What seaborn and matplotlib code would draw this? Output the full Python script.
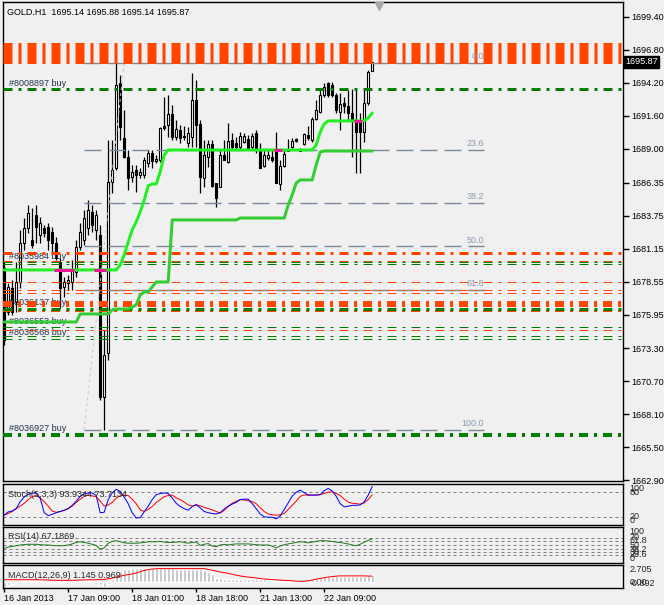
import numpy as np
import matplotlib
matplotlib.use("Agg")
import matplotlib.pyplot as plt
import matplotlib.transforms as mtransforms
import seaborn as sns

# ------------------------------------------------------------------ data
title_text = "GOLD.H1  1695.14 1695.88 1695.14 1695.87"

opens = [1679.62, 1676.16, 1678.05, 1676.95, 1678.52, 1681.59, 1682.78, 1681.83, 1683.80, 1682.22,
         1682.78, 1682.85, 1682.46, 1681.59, 1680.10, 1678.13, 1678.44, 1678.52, 1679.31, 1681.28,
         1681.83, 1682.78, 1684.04, 1682.62, 1682.22, 1669.46, 1672.93, 1686.40, 1687.50, 1694.20,
         1689.87, 1688.37, 1686.79, 1687.35, 1686.95, 1686.95, 1687.90, 1688.69, 1688.05, 1688.13,
         1690.81, 1690.89, 1691.76, 1689.95, 1690.50, 1690.02, 1689.47, 1689.95, 1692.86, 1690.97,
         1686.72, 1688.37, 1689.39, 1686.32, 1686.01, 1688.53, 1687.98, 1689.71, 1689.47, 1689.16,
         1689.55, 1689.79, 1689.16, 1690.26, 1688.92, 1687.66, 1688.29, 1688.37, 1688.76, 1686.24,
         1687.66, 1688.84, 1689.16, 1689.79, 1688.84, 1689.39, 1690.10, 1689.71, 1691.36, 1691.92,
         1693.25, 1694.20, 1694.04, 1693.25, 1691.92, 1692.62, 1692.39, 1691.84, 1691.29, 1691.05,
         1690.34, 1692.62, 1695.14]
closes = [1673.95, 1678.13, 1676.16, 1678.52, 1681.59, 1682.78, 1683.96, 1681.44, 1682.85, 1683.17,
          1682.38, 1681.83, 1681.59, 1680.41, 1678.05, 1678.52, 1678.68, 1679.47, 1681.28, 1682.46,
          1683.56, 1684.19, 1683.01, 1683.80, 1669.46, 1672.77, 1686.40, 1687.35, 1694.04, 1690.73,
          1688.37, 1686.72, 1687.19, 1686.95, 1687.19, 1688.13, 1688.69, 1688.05, 1688.21, 1690.65,
          1690.65, 1691.76, 1689.95, 1690.58, 1689.87, 1689.95, 1690.26, 1692.86, 1690.89, 1686.79,
          1688.53, 1689.39, 1686.09, 1685.14, 1688.53, 1688.13, 1689.63, 1689.16, 1689.16, 1690.02,
          1690.02, 1688.92, 1690.02, 1688.92, 1687.50, 1688.53, 1688.53, 1688.13, 1686.32, 1687.66,
          1688.61, 1688.92, 1689.63, 1689.63, 1688.92, 1690.18, 1689.87, 1691.36, 1692.07, 1693.25,
          1693.89, 1693.25, 1693.25, 1692.07, 1692.55, 1692.39, 1691.84, 1691.29, 1690.34, 1690.34,
          1692.62, 1695.07, 1695.87]
highs = [1680.10, 1678.44, 1678.68, 1680.10, 1682.62, 1683.56, 1684.59, 1684.35, 1684.59, 1683.64,
         1683.01, 1683.17, 1682.85, 1682.07, 1680.41, 1678.92, 1679.07, 1680.25, 1681.83, 1683.17,
         1684.19, 1684.98, 1684.59, 1684.19, 1683.01, 1674.74, 1689.71, 1689.71, 1695.78, 1694.83,
         1692.07, 1688.92, 1687.74, 1687.74, 1687.50, 1688.37, 1688.92, 1688.92, 1688.53, 1690.73,
         1693.10, 1693.25, 1692.47, 1691.29, 1690.89, 1690.81, 1690.73, 1694.99, 1694.44, 1691.29,
         1689.71, 1689.71, 1689.71, 1686.32, 1688.92, 1689.71, 1691.05, 1690.26, 1689.95, 1690.34,
         1690.26, 1690.10, 1690.26, 1690.50, 1689.47, 1688.92, 1688.92, 1688.92, 1690.34, 1688.13,
         1688.92, 1689.79, 1689.87, 1689.87, 1689.08, 1690.26, 1690.81, 1691.52, 1692.86, 1693.65,
         1694.20, 1694.28, 1694.28, 1693.41, 1693.41, 1693.10, 1693.65, 1693.73, 1693.73, 1691.84,
         1693.65, 1695.22, 1695.88]
lows = [1673.56, 1675.92, 1675.92, 1676.16, 1678.05, 1681.04, 1682.38, 1681.20, 1681.59, 1681.59,
        1682.07, 1681.04, 1680.65, 1680.25, 1676.47, 1677.34, 1677.89, 1677.89, 1678.92, 1681.04,
        1681.44, 1682.22, 1682.46, 1681.83, 1669.22, 1666.86, 1672.38, 1685.53, 1687.35, 1689.71,
        1688.29, 1685.77, 1686.40, 1685.61, 1686.72, 1686.72, 1687.58, 1687.50, 1687.90, 1687.98,
        1690.50, 1689.95, 1689.71, 1689.71, 1689.47, 1689.71, 1689.16, 1689.16, 1689.16, 1685.53,
        1686.01, 1687.58, 1686.01, 1684.43, 1686.01, 1688.13, 1687.90, 1688.92, 1688.92, 1688.92,
        1689.47, 1688.92, 1688.92, 1688.69, 1687.50, 1687.58, 1688.13, 1687.98, 1686.32, 1685.77,
        1687.58, 1688.84, 1689.08, 1689.55, 1688.84, 1689.32, 1689.71, 1689.55, 1691.29, 1691.84,
        1693.10, 1693.10, 1693.10, 1691.84, 1690.50, 1691.84, 1691.29, 1688.37, 1687.11, 1687.11,
        1689.55, 1692.47, 1695.14]

trail_fast = [1679.47, 1679.47, 1679.47, 1679.47, 1679.47, 1679.47, 1679.47, 1679.47, 1679.47, 1679.47,
              1679.47, 1679.47, 1679.47, 1679.47, 1679.47, 1679.47, 1679.47, 1679.47, 1679.47, 1679.47,
              1679.47, 1679.47, 1679.47, 1679.47, 1679.47, 1679.47, 1679.47, 1679.47, 1679.47, 1679.86,
              1680.65, 1681.67, 1682.62, 1683.25, 1684.04, 1684.98, 1686.09, 1686.24, 1686.24, 1687.19,
              1688.53, 1688.92, 1688.92, 1688.92, 1688.92, 1688.92, 1688.92, 1688.92, 1688.92, 1688.92,
              1688.92, 1688.92, 1688.92, 1688.92, 1688.92, 1688.92, 1688.92, 1688.92, 1688.92, 1688.92,
              1688.92, 1688.92, 1688.92, 1688.92, 1688.92, 1688.92, 1688.92, 1688.92, 1688.92, 1688.92,
              1688.92, 1688.92, 1688.92, 1688.92, 1688.92, 1688.92, 1688.92, 1688.92, 1689.32, 1690.34,
              1690.97, 1691.21, 1691.21, 1691.21, 1691.21, 1691.21, 1691.21, 1691.21, 1691.21, 1691.21,
              1691.21, 1691.44, 1691.84]
trail_fast_alt_bars = [13, 14, 15, 16, 17, 23, 24, 25, 68, 69, 88, 89]
trail_slow = [1675.37, 1675.37, 1675.37, 1675.37, 1675.37, 1675.37, 1675.37, 1675.37, 1675.37, 1675.37,
              1675.37, 1675.37, 1675.37, 1675.37, 1675.37, 1675.37, 1675.37, 1675.37, 1675.37, 1676.00,
              1676.00, 1676.00, 1676.00, 1676.00, 1676.00, 1676.00, 1676.00, 1676.32, 1676.39, 1676.39,
              1676.39, 1676.39, 1676.55, 1676.71, 1677.50, 1677.73, 1677.73, 1678.13, 1678.52, 1678.52,
              1678.52, 1678.52, 1683.41, 1683.41, 1683.41, 1683.41, 1683.41, 1683.41, 1683.41, 1683.41,
              1683.41, 1683.41, 1683.41, 1683.41, 1683.41, 1683.41, 1683.41, 1683.41, 1683.41, 1683.56,
              1683.56, 1683.56, 1683.56, 1683.56, 1683.56, 1683.56, 1683.56, 1683.56, 1683.56, 1683.56,
              1683.56, 1684.59, 1685.38, 1686.32, 1686.56, 1686.56, 1686.56, 1686.56, 1687.74, 1688.76,
              1688.84, 1688.84, 1688.84, 1688.84, 1688.84, 1688.84, 1688.84, 1688.84, 1688.84, 1688.84,
              1688.84, 1688.84, 1688.84]

stoch_main = [24, 32, 34, 40, 57, 68, 75, 78, 78, 65, 30, 23, 26, 30, 33, 36, 40, 48, 58, 70,
              76, 78, 78, 72, 30, 31, 62, 78, 87, 82, 68, 52, 30, 17, 18, 32, 46, 62, 74, 77,
              78, 77, 66, 53, 45, 40, 36, 45, 50, 42, 33, 30, 28, 27, 30, 39, 46, 51, 55, 62,
              63, 63, 52, 40, 27, 20, 19, 19, 15, 22, 38, 54, 70, 80, 85, 79, 73, 73, 73, 74,
              84, 89, 83, 70, 52, 44, 46, 48, 48, 49, 56, 73, 93.9344]
stoch_signal = [24, 28, 33, 40, 46, 53, 62, 69, 72, 66, 57, 46, 34, 31, 33, 36, 40, 46, 55, 63,
                70, 73, 71, 69, 58, 46, 49, 55, 66, 71, 73, 72, 63, 52, 37, 33, 38, 45, 55, 62,
                69, 72, 73, 66, 62, 56, 49, 46, 49, 47, 43, 40, 37, 33, 29, 36, 45, 53, 58, 62,
                61, 59, 57, 52, 42, 33, 27, 25, 24, 25, 28, 38, 48, 58, 70, 73, 73, 73, 73, 74,
                77, 80, 81, 77, 72, 63, 56, 53, 52, 51, 54, 62, 73.7134]
stoch_levels = [80, 20]

rsi_values = [41, 44, 46, 48, 50, 51, 52, 52, 52, 51, 50, 50, 49, 48, 48, 48, 50, 53, 57, 59,
              57, 55, 52, 49, 38, 42, 55, 60, 62, 59, 56, 55, 55, 55, 56, 57, 59, 59, 59, 60,
              58, 57, 57, 58, 59, 57, 55, 57, 58, 49, 52, 54, 47, 45, 50, 52, 50, 52, 53, 53,
              53, 53, 52, 51, 50, 50, 50, 47, 42, 47, 51, 53, 55, 57, 59, 58, 56, 58, 60, 62,
              62, 61, 60, 58, 57, 55, 53, 50, 48, 52, 58, 63, 67.1869]
rsi_levels = [70, 61.8, 50, 38.2, 30, 23.6]
rsi_level_labels = ["70", "61.8", "50", "38.2", "30", "23.6"]

macd_hist = [-0.87, -0.50, -0.20, 0.00, 0.10, 0.15, 0.20, 0.20, 0.20, 0.15,
             0.05, -0.05, -0.10, -0.10, -0.10, -0.05, 0.00, 0.05, 0.10, 0.15,
             0.20, 0.20, 0.20, 0.10, -0.50, -0.70, -0.20, 0.50, 1.30, 1.80,
             2.10, 2.15, 2.19, 2.20, 2.22, 2.22, 2.21, 2.20, 2.20, 2.19,
             2.18, 2.17, 2.16, 2.14, 2.12, 2.10, 2.08, 2.10, 2.12, 2.05,
             1.90, 1.60, 1.25, 0.75, 0.60, 0.56, 0.56, 0.58, 0.58, 0.56,
             0.55, 0.55, 0.51, 0.51, 0.50, 0.45, 0.41, 0.25, 0.15, 0.14,
             0.12, 0.14, 0.15, 0.15, 0.15, 0.20, 0.40, 0.55, 0.66, 0.75,
             0.82, 0.95, 1.00, 1.02, 1.02, 1.00, 1.00, 0.98, 0.96, 0.98,
             1.02, 1.08, 1.145]
macd_signal = [0.41, 0.41, 0.41, 0.41, 0.41, 0.41, 0.41, 0.41, 0.41, 0.39,
               0.37, 0.35, 0.33, 0.31, 0.30, 0.30, 0.30, 0.31, 0.33, 0.35,
               0.37, 0.39, 0.40, 0.41, 0.41, 0.45, 0.55, 0.65, 0.80, 0.95,
               1.10, 1.20, 1.30, 1.45, 1.65, 1.85, 2.00, 2.08, 2.12, 2.14,
               2.14, 2.14, 2.14, 2.14, 2.14, 2.14, 2.14, 2.14, 2.14, 2.14,
               2.14, 2.00, 1.90, 1.75, 1.62, 1.50, 1.40, 1.25, 1.12, 1.00,
               0.90, 0.82, 0.76, 0.68, 0.60, 0.52, 0.46, 0.42, 0.38, 0.33,
               0.30, 0.28, 0.22, 0.18, 0.15, 0.18, 0.25, 0.35, 0.50, 0.60,
               0.72, 0.82, 0.90, 0.96, 1.00, 1.00, 1.00, 1.00, 1.00, 1.00,
               1.00, 0.98, 0.969]
macd_scale_max = 2.705
macd_scale_min = -0.892

price_ticks = [1699.40, 1696.80, 1694.20, 1691.60, 1689.00, 1686.35, 1683.75, 1681.15,
               1678.55, 1675.95, 1673.30, 1670.70, 1668.10, 1665.50, 1662.90]
current_price = 1695.87

date_tick_bars = [0, 16, 32, 48, 64, 80]
date_labels = ["16 Jan 2013", "17 Jan 09:00", "18 Jan 01:00", "18 Jan 18:00",
               "21 Jan 13:00", "22 Jan 09:00"]

fib_anchor_bars = [20, 30]
fib_anchor_prices = [1666.86, 1695.78]
fib_end_bar = 120
fib_levels = [0.0, 23.6, 38.2, 50.0, 61.8, 100.0]

sell_order_prices = [1696.60, 1680.83, 1680.21, 1678.52, 1677.89, 1677.66,
                     1676.98, 1676.79, 1676.59, 1676.24, 1674.74]
buy_order_prices = [1693.69, 1680.07, 1679.90, 1676.43, 1674.94, 1674.23, 1674.03, 1666.47]
buy_labels = ["#8008897 buy", "#8035984 buy", "#8036137 buy", "#8036553 buy",
              "#8036568 buy", "#8036927 buy"]
buy_label_prices = [1693.69, 1680.07, 1676.43, 1674.94, 1674.03, 1666.47]

# ------------------------------------------------------------------ style
BG = "#F0F0F0"
ORANGE = "#FF4500"
GREEN = "#008000"
sns.set_style("white", {"axes.facecolor": BG, "figure.facecolor": BG,
                        "axes.edgecolor": "black"})
plt.rcParams["font.family"] = ["Liberation Sans", "DejaVu Sans"]
plt.rcParams["lines.scale_dashes"] = False
PX = 0.72  # points per pixel at 100 dpi
FS = 6.5

sell_widths_px = [21, 3, 1, 1, 1, 1, 2, 2, 2, 2, 1]
buy_widths_px = [3, 1, 1, 3, 1, 1, 1, 4]

fig = plt.figure(figsize=(6.64, 6.05), dpi=100, facecolor=BG)
W_PX, H_PX = 664, 605
LEFT, RIGHT = 3, 623


def frame(top, bottom):
    return [LEFT / W_PX, 1 - bottom / H_PX, (RIGHT - LEFT) / W_PX, (bottom - top) / H_PX]


ax = fig.add_axes(frame(2, 481))
ax_st = fig.add_axes(frame(484, 525), sharex=ax)
ax_rsi = fig.add_axes(frame(527, 563), sharex=ax)
ax_macd = fig.add_axes(frame(565, 588), sharex=ax)

for a in (ax, ax_st, ax_rsi, ax_macd):
    a.set_facecolor(BG)
    for s in a.spines.values():
        s.set_color("black")
        s.set_linewidth(1.0)
    a.tick_params(axis="x", bottom=False, labelbottom=False)
    a.tick_params(axis="y", left=False, labelleft=False)

bars = np.arange(len(opens))
o = np.array(opens); c = np.array(closes); h = np.array(highs); l = np.array(lows)
ax.set_xlim(-0.3, 154.7)
ax.set_ylim(1662.84, 1700.58)

# candles
ax.vlines(bars, l, h, color="black", lw=0.9, zorder=3)
up = c >= o
bottoms = np.minimum(o, c)
heights = np.abs(c - o)
ax.bar(bars[up], heights[up], bottom=bottoms[up], width=0.55, color="white",
       edgecolor="black", linewidth=0.8, zorder=4)
ax.bar(bars[~up], heights[~up], bottom=bottoms[~up], width=0.55, color="black",
       edgecolor="black", linewidth=0.8, zorder=4)

# order labels
for lab, p in zip(buy_labels, buy_label_prices):
    ax.text(1.2, p + 0.12, lab, fontsize=FS, color="#22334F", ha="left", va="bottom", zorder=5)

# fibonacci
fib_hi, fib_lo = fib_anchor_prices[1], fib_anchor_prices[0]
ax.plot(fib_anchor_bars, fib_anchor_prices, color="#C8C8C8", lw=1 * PX,
        dashes=(3 * PX, 3 * PX), zorder=6)
for lv in fib_levels:
    p = fib_hi - (fib_hi - fib_lo) * lv / 100.0
    ax.plot([fib_anchor_bars[0], fib_end_bar], [p, p], color="#7A8899", lw=1.4 * PX,
            dashes=(17 * PX, 7 * PX), zorder=6)
    ax.text(fib_end_bar, p + 0.15, f"{lv:.1f}", fontsize=FS, color="#8C9BB0",
            ha="right", va="bottom", zorder=8)

# order lines
pat = (9 * PX, 6 * PX, 3 * PX, 6 * PX)
for p, w in zip(sell_order_prices, sell_widths_px):
    ax.axhline(p, color=ORANGE, lw=w * PX, dashes=pat, zorder=7)
for p, w in zip(buy_order_prices, buy_widths_px):
    ax.axhline(p, color=GREEN, lw=w * PX, dashes=pat, zorder=7)

# trailing indicator lines
sns.lineplot(x=bars, y=trail_slow, ax=ax, color="#32CD32", linewidth=3 * PX,
             estimator=None, errorbar=None, zorder=8)
sns.lineplot(x=bars, y=trail_fast, ax=ax, color="#22F022", linewidth=3 * PX,
             estimator=None, errorbar=None, zorder=8)
tf = np.array(trail_fast)
groups = []
for b in trail_fast_alt_bars:
    if groups and b == groups[-1][-1] + 1:
        groups[-1].append(b)
    else:
        groups.append([b])
for g in groups:
    ax.plot([g[0] - 0.5, g[-1] + 0.5], [tf[g[0]], tf[g[-1]]], color="#F0149A",
            lw=3 * PX, solid_capstyle="butt", zorder=9)
ax.set_xlabel(""); ax.set_ylabel("")

# header text
ax.text(0.006, 0.988, title_text, transform=ax.transAxes, fontsize=FS, color="black",
        ha="left", va="top", zorder=10)

# right price axis
ax.yaxis.tick_right()
ax.set_yticks(price_ticks)
ax.set_yticklabels([f"{p:.2f}" for p in price_ticks])
ax.tick_params(axis="y", right=True, labelright=True, direction="out", length=4,
               width=1, pad=2, labelsize=FS, colors="black")
trans = mtransforms.blended_transform_factory(ax.transAxes, ax.transData)
ax.text(1.003, current_price, "1695.87", transform=trans, fontsize=FS, color="white",
        ha="left", va="center", zorder=11,
        bbox=dict(facecolor="black", edgecolor="black", pad=1.0))
ax.plot([93.8], [1700.25], marker="v", color="#A8A8A8", markersize=6, clip_on=False, zorder=11)

# stochastic panel
ax_st.set_ylim(0, 100)
for lv in stoch_levels:
    ax_st.axhline(lv, color="#808080", lw=1 * PX, dashes=(3 * PX, 3 * PX), zorder=2)
sns.lineplot(x=bars, y=stoch_signal, ax=ax_st, color="#FF0000", linewidth=1 * PX,
             estimator=None, errorbar=None, zorder=3)
sns.lineplot(x=bars, y=stoch_main, ax=ax_st, color="#0000FF", linewidth=1 * PX,
             estimator=None, errorbar=None, zorder=4)
ax_st.set_xlabel(""); ax_st.set_ylabel("")
ax_st.text(0.008, 0.74, f"Stoch(5,3,3) {stoch_main[-1]:.4f} {stoch_signal[-1]:.4f}",
           transform=ax_st.transAxes, fontsize=FS, ha="left", va="center", zorder=6)
tst = mtransforms.blended_transform_factory(ax_st.transAxes, ax_st.transData)
ax_st.text(1.01, 100, "100", transform=tst, fontsize=FS, va="top", ha="left")
for lv in stoch_levels:
    ax_st.text(1.01, lv, f"{lv}", transform=tst, fontsize=FS, va="center", ha="left")
ax_st.text(1.01, 0, "0", transform=tst, fontsize=FS, va="bottom", ha="left")

# RSI panel
ax_rsi.set_ylim(0, 100)
for lv in rsi_levels:
    ax_rsi.axhline(lv, color="#808080", lw=1 * PX, dashes=(3 * PX, 3 * PX), zorder=2)
sns.lineplot(x=bars, y=rsi_values, ax=ax_rsi, color="#1A7A1A", linewidth=1 * PX,
             estimator=None, errorbar=None, zorder=3)
ax_rsi.set_xlabel(""); ax_rsi.set_ylabel("")
ax_rsi.text(0.008, 0.73, f"RSI(14) {rsi_values[-1]:.4f}", transform=ax_rsi.transAxes,
            fontsize=FS, ha="left", va="center", zorder=6)
trs = mtransforms.blended_transform_factory(ax_rsi.transAxes, ax_rsi.transData)
ax_rsi.text(1.01, 100, "100", transform=trs, fontsize=FS, va="top", ha="left")
for lv, lab in zip(rsi_levels, rsi_level_labels):
    ax_rsi.text(1.01, lv, lab, transform=trs, fontsize=FS, va="center", ha="left")
ax_rsi.text(1.01, 0, "0", transform=trs, fontsize=FS, va="bottom", ha="left")

# MACD panel
ax_macd.set_ylim(macd_scale_min, macd_scale_max)
ax_macd.bar(bars, macd_hist, width=0.7, color="#C0C0C0", zorder=2)
sns.lineplot(x=bars, y=macd_signal, ax=ax_macd, color="#FF0000", linewidth=1 * PX,
             estimator=None, errorbar=None, zorder=3)
ax_macd.set_xlabel(""); ax_macd.set_ylabel("")
ax_macd.text(0.008, 0.53, f"MACD(12,26,9) {macd_hist[-1]:.3f} {macd_signal[-1]:.3f}",
             transform=ax_macd.transAxes, fontsize=FS, ha="left", va="center", zorder=6)
tmc = mtransforms.blended_transform_factory(ax_macd.transAxes, ax_macd.transData)
ax_macd.text(1.01, macd_scale_max, f"{macd_scale_max:.3f}", transform=tmc, fontsize=FS,
             va="top", ha="left")
ax_macd.text(1.01, 0.0, "0.00", transform=tmc, fontsize=FS, va="center", ha="left")
ax_macd.text(1.01, macd_scale_min, f"{macd_scale_min:.3f}", transform=tmc, fontsize=FS,
             va="bottom", ha="left")

# time axis
ax_macd.set_xticks(date_tick_bars)
ax_macd.set_xticklabels(date_labels, ha="left")
ax_macd.tick_params(axis="x", bottom=True, labelbottom=True, direction="out", length=3,
                    width=1, pad=1, labelsize=FS, colors="black")
ax.set_xlim(-0.3, 154.7)

fig.savefig("out.png", dpi=100, facecolor=BG)
